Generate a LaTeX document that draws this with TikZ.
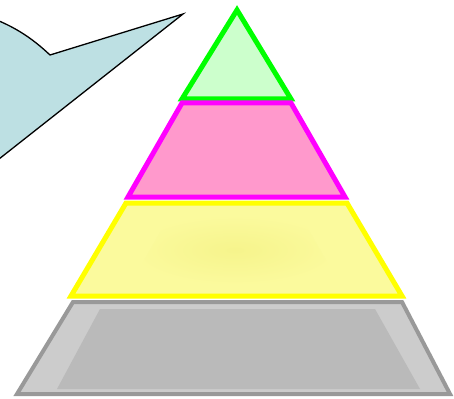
\documentclass[tikz,border=0pt]{standalone}
\usepackage{xcolor}
\usetikzlibrary{calc}
\definecolor{bubblefill}{HTML}{BDE0E3}
\definecolor{topline}{HTML}{00FF00}
\definecolor{topfill}{HTML}{CCFFCC}
\definecolor{midline}{HTML}{FF00FF}
\definecolor{midfill}{HTML}{FF99CC}
\definecolor{lowline}{HTML}{FFFF00}
\definecolor{lowfill}{HTML}{FBFA9D}
\definecolor{lowcore}{HTML}{F6F48C}
\definecolor{basefill}{HTML}{CCCCCC}
\definecolor{basecore}{HTML}{BABABA}
\definecolor{baseline}{HTML}{999999}

\begin{document}
\begin{tikzpicture}[
  x=1pt,y=-1pt,
  level/.style={line width=5pt,line join=miter},
  bubble/.style={fill=bubblefill,draw=black,line width=1.3pt,line join=miter}
]
\useasboundingbox (0,0) rectangle (454,398);
% callout, cut off at the left edge
\begin{scope}
\clip (0,0) rectangle (454,398);
\coordinate (tip) at (183,14);
\coordinate (notch) at (50,55);
\draw[bubble] (-20,14) .. controls (12,24) and (32,38) .. (notch) -- (tip) -- (-20,174) -- cycle;
\end{scope}
% pyramid levels, top to bottom
\draw[level,draw=topline,fill=topfill] (237,10) -- (291,99) -- (182,99) -- cycle;
\draw[level,draw=midline,fill=midfill] (182,103) -- (291,103) -- (345,197) -- (128,197) -- cycle;
\fill[lowfill] (126,203) -- (347,203) -- (402,296) -- (71,296) -- cycle;
\shade[inner color=lowcore,outer color=lowfill] (170,215) -- (300,215) -- (340,285) -- (130,285) -- cycle;
\draw[level,draw=lowline] (126,203) -- (347,203) -- (402,296) -- (71,296) -- cycle;
\fill[basefill] (73,302) -- (402,302) -- (450,394) -- (17,394) -- cycle;
\fill[basecore] (100,309) -- (375,309) -- (420,389) -- (57,389) -- cycle;
\draw[level,line width=4pt,draw=baseline] (73,302) -- (402,302) -- (450,394) -- (17,394) -- cycle;
\end{tikzpicture}
\end{document}
